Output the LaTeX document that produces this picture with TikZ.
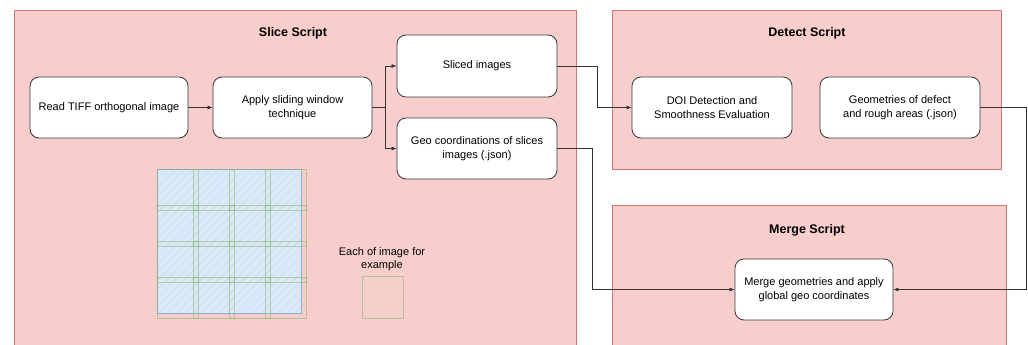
\documentclass[tikz,border=0pt]{standalone}
\usepackage{fontspec}
\setmainfont{Liberation Sans}
\usetikzlibrary{arrows.meta,patterns.meta}

\definecolor{redfill}{HTML}{F8CECC}
\definecolor{redline}{HTML}{D67373}
\definecolor{bluefill}{HTML}{DAE8FC}
\definecolor{blueline}{HTML}{8FAAD6}
\definecolor{greenline}{HTML}{82B366}
\definecolor{boxline}{HTML}{36393D}
\definecolor{wire}{HTML}{333333}

\tikzset{
  stepbox/.style={draw=boxline, line width=0.8pt, fill=white, rounded corners=9pt,
    minimum width=159pt, minimum height=61pt, align=center, inner sep=2pt,
    font=\fontsize{11}{14}\selectfont},
  title/.style={font=\fontsize{12.5}{14}\selectfont\bfseries},
  conn/.style={draw=wire, line width=0.7pt, -{Latex[length=5pt,width=4pt]}},
  tile/.style={pattern={Lines[angle=45,distance=6pt,line width=0.5pt]},
    pattern color=greenline!50, draw=greenline, draw opacity=0.5, line width=0.8pt},
}

\begin{document}
\begin{tikzpicture}[x=1pt,y=-1pt]
\useasboundingbox (0,0) rectangle (1028,345);

% script containers
\fill[redfill] (14,10) rectangle (576,345);
\draw[redline, line width=0.8pt] (14,345) -- (14,10) -- (576,10) -- (576,345);
\filldraw[fill=redfill, draw=redline, line width=0.8pt] (612,10) rectangle (1001,169);
\fill[redfill] (612,205) rectangle (1006,345);
\draw[redline, line width=0.8pt] (612,345) -- (612,205) -- (1006,205) -- (1006,345);

\node[title] (tslice) at (293,33) {Slice Script};
\node[title] (tdetect) at (807,33) {Detect Script};
\node[title] (tmerge) at (807,230) {Merge Script};

% processing steps
\node[stepbox, minimum width=158pt] (read) at (109,107.5) {Read TIFF orthogonal image};
\node[stepbox] (apply) at (292.5,107.5) {Apply sliding window\\technique};
\node[stepbox, minimum width=160pt, minimum height=62pt] (sliced) at (477,66) {Sliced images};
\node[stepbox, minimum width=160pt] (geo) at (477,148.5) {Geo coordinations of slices\\images (.json)};
\node[stepbox, minimum width=160pt] (doi) at (712,107.5) {DOI Detection and\\Smoothness Evaluation};
\node[stepbox, minimum width=160pt] (geom) at (900,107.5) {Geometries of defect\\and rough areas (.json)};
\node[stepbox, minimum width=158pt] (merge) at (814,289.5) {Merge geometries and apply\\global geo coordinates};

% bend points of the connectors
\coordinate (split) at (385,107.5);
\coordinate (j1) at (597,0);
\coordinate (j2) at (592,0);
\coordinate (j3) at (1026.5,0);

\path[conn] (read.east) -- (apply.west);
\draw[wire, line width=0.7pt] (apply.east) -- (split);
\path[conn] (split) |- (sliced.west);
\path[conn] (split) |- (geo.west);
\path[conn] (sliced.east) -- (sliced.east -| j1) -- (j1 |- doi.west) -- (doi.west);
\path[conn] (geo.east) -- (geo.east -| j2) -- (j2 |- merge.west) -- (merge.west);
\path[conn] (geom.east) -- (geom.east -| j3) -- (j3 |- merge.east) -- (merge.east);

% sliding window illustration
\filldraw[fill=bluefill, draw=blueline, line width=0.8pt] (157,169) rectangle (301,313);
\foreach \i in {0,1,2,3}{
  \foreach \j in {0,1,2,3}{
    \path[tile] (157+36*\i,169+36*\j) rectangle ++(41,41);
  }
}

\node[font=\fontsize{11}{13}\selectfont, align=center] (ex) at (382,259) {Each of image for\\example};
\path[tile] (362,276) rectangle (403,318);
\end{tikzpicture}
\end{document}
